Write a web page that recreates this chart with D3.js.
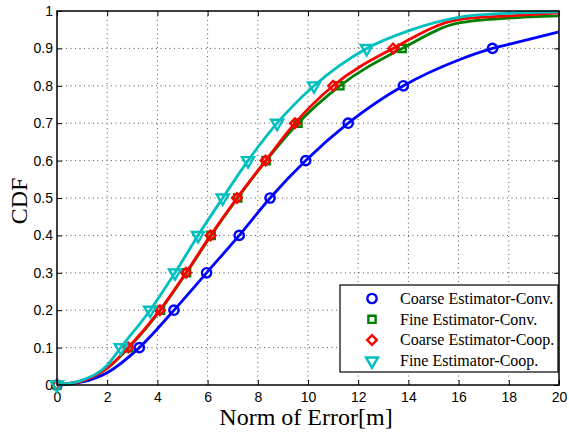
<!DOCTYPE html>
<html>
<head>
<meta charset="utf-8">
<script src="https://cdn.jsdelivr.net/npm/d3@7"></script>
<style>
  body { margin: 0; background: #fff; }
  svg { display: block; }
  .tick text { font-family: "Liberation Sans", Arial, sans-serif; font-size: 14px; fill: #000; }
</style>
</head>
<body>
<script>
// CDF levels where each curve carries a marker
var levels = [0, 0.1, 0.2, 0.3, 0.4, 0.5, 0.6, 0.7, 0.8, 0.9];

// error [m] at which each curve reaches the levels above
var coarseConv = [0, 3.28, 4.66, 5.96, 7.26, 8.49, 9.91, 11.6, 13.8, 17.35];
var fineConv   = [0, 2.86, 4.12, 5.16, 6.14, 7.2, 8.33, 9.6, 11.27, 13.75];
var coarseCoop = [0, 2.84, 4.1, 5.14, 6.12, 7.17, 8.31, 9.48, 11.0, 13.39];
var fineCoop   = [0, 2.54, 3.71, 4.7, 5.62, 6.6, 7.61, 8.77, 10.24, 12.34];

var coarseConvExtra = [[1, 0.008], [2, 0.033], [16, 0.869], [18, 0.911], [20, 0.944]];
var fineConvExtra   = [[1, 0.011], [2, 0.045], [16, 0.968], [18, 0.981], [20, 0.987]];
var coarseCoopExtra = [[1, 0.011], [2, 0.045], [16, 0.977], [18, 0.987], [20, 0.995]];
var fineCoopExtra   = [[1, 0.013], [2, 0.053], [14, 0.947], [16, 0.983], [18, 0.994], [20, 0.998]];

var names = ["Coarse Estimator-Conv.", "Fine Estimator-Conv.", "Coarse Estimator-Coop.", "Fine Estimator-Coop."];
var xTicks = [0, 2, 4, 6, 8, 10, 12, 14, 16, 18, 20];
var yTicks = [0, 0.1, 0.2, 0.3, 0.4, 0.5, 0.6, 0.7, 0.8, 0.9, 1];

var width = 569, height = 433;
var plotL = 57, plotR = 559, plotT = 11, plotB = 385;

var series = [
  {name: names[0], xs: coarseConv, extra: coarseConvExtra, color: "#0000ff", marker: "circle"},
  {name: names[1], xs: fineConv,   extra: fineConvExtra,   color: "#008000", marker: "square"},
  {name: names[2], xs: coarseCoop, extra: coarseCoopExtra, color: "#ff0000", marker: "diamond"},
  {name: names[3], xs: fineCoop,   extra: fineCoopExtra,   color: "#00bfbf", marker: "triangle"}
];

var xScale = d3.scaleLinear().domain([0, 20]).range([plotL, plotR]);
var yScale = d3.scaleLinear().domain([0, 1]).range([plotB, plotT]);

var svg = d3.select("body").append("svg")
  .attr("width", width)
  .attr("height", height);

// dotted grid
svg.append("g").selectAll("line")
  .data(xTicks.slice(1, -1))
  .enter().append("line")
  .attr("x1", function(d){ return xScale(d); })
  .attr("x2", function(d){ return xScale(d); })
  .attr("y1", plotT).attr("y2", plotB)
  .attr("stroke", "#555").attr("stroke-width", 1)
  .attr("stroke-dasharray", "1,3.5");

svg.append("g").selectAll("line")
  .data(yTicks.slice(1, -1))
  .enter().append("line")
  .attr("y1", function(d){ return yScale(d); })
  .attr("y2", function(d){ return yScale(d); })
  .attr("x1", plotL).attr("x2", plotR)
  .attr("stroke", "#555").attr("stroke-width", 1)
  .attr("stroke-dasharray", "1,3.5");

// axes, ticks pointing inwards (box on all four sides)
var xAxis = d3.axisBottom(xScale).tickValues(xTicks).tickSizeInner(-5).tickSizeOuter(0).tickPadding(7).tickFormat(d3.format("d"));
var yAxis = d3.axisLeft(yScale).tickValues(yTicks).tickSizeInner(-5).tickSizeOuter(0).tickPadding(4).tickFormat(d3.format("~g"));
var xTop = d3.axisTop(xScale).tickValues(xTicks).tickSizeInner(-5).tickSizeOuter(0).tickFormat("");
var yRight = d3.axisRight(yScale).tickValues(yTicks).tickSizeInner(-5).tickSizeOuter(0).tickFormat("");

svg.append("g").attr("transform", "translate(0," + plotB + ")").call(xAxis);
svg.append("g").attr("transform", "translate(" + plotL + ",0)").call(yAxis);
svg.append("g").attr("transform", "translate(0," + plotT + ")").call(xTop);
svg.append("g").attr("transform", "translate(" + plotR + ",0)").call(yRight);
svg.selectAll(".domain").remove();
svg.selectAll(".tick line").attr("stroke", "#000");

// curves
var line = d3.line()
  .x(function(d){ return xScale(d[0]); })
  .y(function(d){ return yScale(d[1]); })
  .curve(d3.curveMonotoneX);

function markerPath(type) {
  if (type == "square") return d3.symbol().type(d3.symbolSquare).size(52)();
  if (type == "diamond") return d3.symbol().type(d3.symbolSquare).size(46)();
  if (type == "triangle") return d3.symbol().type(d3.symbolTriangle).size(62)();
  return d3.symbol().type(d3.symbolCircle).size(68)();
}
function markerRotate(type) {
  if (type == "diamond") return " rotate(45)";
  if (type == "triangle") return " rotate(180)";
  return "";
}

var plot = svg.append("g");

series.forEach(function(s) {
  var pts = s.xs.map(function(x, i){ return [x, levels[i]]; }).concat(s.extra);
  pts.sort(function(a, b){ return a[0] - b[0]; });

  plot.append("path")
    .datum(pts)
    .attr("d", line)
    .attr("fill", "none")
    .attr("stroke", s.color)
    .attr("stroke-width", 2.8)
    .attr("stroke-linejoin", "round");

  plot.selectAll(null)
    .data(s.xs.map(function(x, i){ return [x, levels[i]]; }))
    .enter().append("path")
    .attr("d", markerPath(s.marker))
    .attr("transform", function(d){
      return "translate(" + xScale(d[0]) + "," + yScale(d[1]) + ")" + markerRotate(s.marker);
    })
    .attr("fill", "none")
    .attr("stroke", s.color)
    .attr("stroke-width", 2.4);
});

// frame
svg.append("rect")
  .attr("x", plotL).attr("y", plotT)
  .attr("width", plotR - plotL).attr("height", plotB - plotT)
  .attr("fill", "none").attr("stroke", "#000").attr("stroke-width", 1.5);

// axis labels
svg.append("text")
  .attr("x", 306).attr("y", 425)
  .attr("text-anchor", "middle")
  .attr("font-family", "'Liberation Serif', 'Times New Roman', serif")
  .attr("font-size", 24)
  .text("Norm of Error[m]");

svg.append("text")
  .attr("transform", "translate(27,201) rotate(-90)")
  .attr("text-anchor", "middle")
  .attr("font-family", "'Liberation Serif', 'Times New Roman', serif")
  .attr("font-size", 24)
  .text("CDF");

// legend
var legend = svg.append("g");
legend.append("rect")
  .attr("x", 340).attr("y", 285)
  .attr("width", 218).attr("height", 87)
  .attr("fill", "#fff").attr("stroke", "#000").attr("stroke-width", 1.2);

var rows = legend.selectAll("g.row")
  .data(series)
  .enter().append("g")
  .attr("class", "row")
  .attr("transform", function(d, i){ return "translate(0," + (298.5 + i * 20.8) + ")"; });

rows.append("path")
  .attr("d", function(d){ return markerPath(d.marker); })
  .attr("transform", function(d){ return "translate(372,0)" + markerRotate(d.marker); })
  .attr("fill", "none")
  .attr("stroke", function(d){ return d.color; })
  .attr("stroke-width", 2.4);

rows.append("text")
  .attr("x", 400).attr("y", 0).attr("dy", "0.33em")
  .attr("font-family", "'Liberation Serif', 'Times New Roman', serif")
  .attr("font-size", 16)
  .text(function(d){ return d.name; });
</script>
</body>
</html>
